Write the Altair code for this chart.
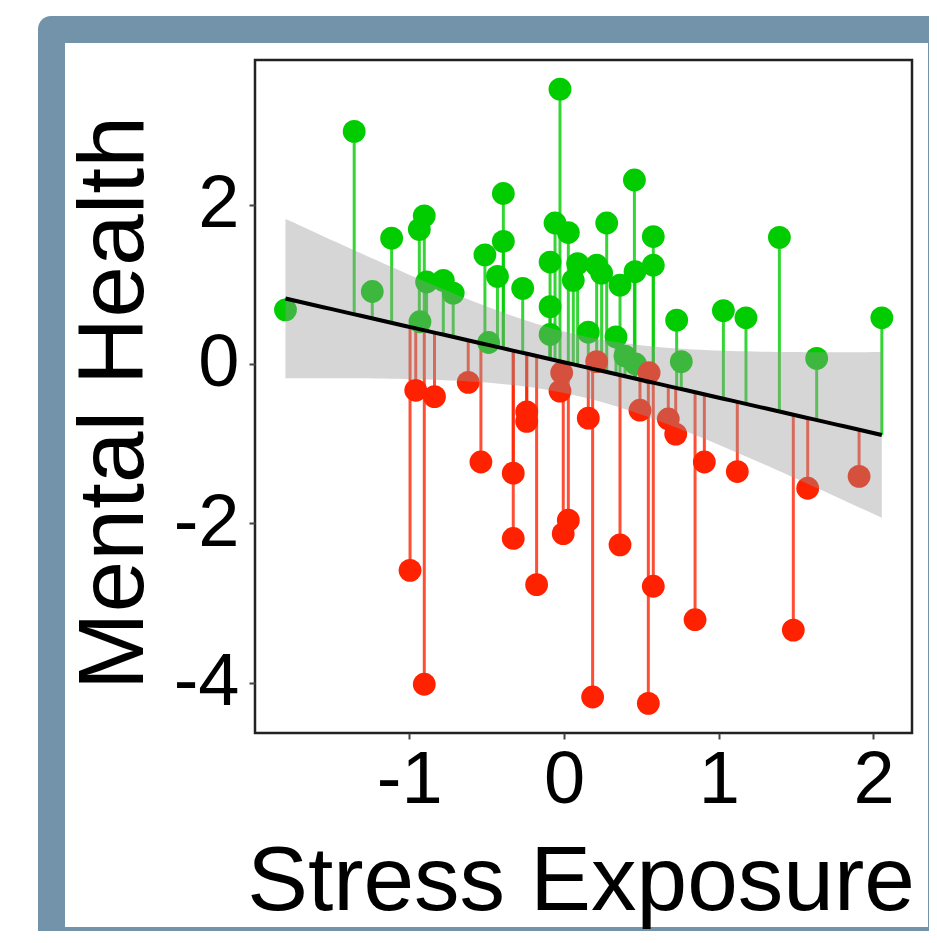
import altair as alt
import numpy as np
import pandas as pd

# ---- data ----
green_x = [-1.80, -1.356, -1.239, -1.114, -0.903, -0.935, -0.888, -0.780, -0.716, -0.931,
           -0.026, -0.392, -0.392, -0.511, -0.430, -0.267, -0.487, -0.058, 0.028, -0.090,
           0.088, 0.060, -0.090, -0.090, 0.276, 0.211, 0.243, 0.362, 0.455, 0.577,
           0.577, 0.459, 0.157, 0.336, 0.394, 0.462, 0.728, 0.758, 1.030, 1.176,
           1.392, 1.633, 2.054]
green_y = [0.68, 2.92, 0.91, 1.58, 1.86, 1.69, 1.03, 1.05, 0.89, 0.53,
           3.45, 2.14, 1.54, 1.37, 1.10, 0.95, 0.27, 1.77, 1.65, 1.28,
           1.26, 1.05, 0.72, 0.37, 1.77, 1.24, 1.14, 0.99, 2.31, 1.60,
           1.24, 1.16, 0.40, 0.34, 0.10, 0.00, 0.55, 0.03, 0.67, 0.58,
           1.59, 0.07, 0.58]
red_x = [-0.958, -0.837, -0.995, -0.903, -0.619, -0.537, -0.328, -0.328, -0.241, -0.241,
         -0.177, 0.028, -0.005, -0.026, -0.015, 0.157, 0.185, 0.362, 0.491, 0.577,
         0.545, 0.674, 0.722, 0.907, 1.120, 0.847, 1.482, 1.575, 1.907, 0.211, 0.550]
red_y = [-0.33, -0.41, -2.59, -4.02, -0.23, -1.23, -1.37, -2.19, -0.60, -0.72,
         -2.77, -1.96, -2.13, -0.34, -0.11, -0.68, -4.18, -2.27, -0.58, -2.79,
         -4.26, -0.69, -0.88, -1.23, -1.35, -3.21, -3.34, -1.56, -1.41, 0.03, -0.11]

x_ticks = [-1, 0, 1, 2]
y_ticks = [-4, -2, 0, 2]
x_title = "Stress Exposure"
y_title = "Mental Health"

GREEN = "#00cc00"
RED = "#ff2200"
FRAME = "#7393ab"
FONT = "Liberation Sans"

# ---- linear fit (OLS) with 95% confidence band ----
xs = np.array(green_x + red_x, dtype=float)
ys = np.array(green_y + red_y, dtype=float)
groups = ["above"] * len(green_x) + ["below"] * len(red_x)
n = len(xs)
slope, intercept = np.polyfit(xs, ys, 1)
fitted = intercept + slope * xs
resid = ys - fitted
s = np.sqrt(np.sum(resid ** 2) / (n - 2))
xbar = xs.mean()
sxx = np.sum((xs - xbar) ** 2)
dfree = n - 2
z = 1.959964
tq = z + (z ** 3 + z) / (4 * dfree) + (5 * z ** 5 + 16 * z ** 3 + 3 * z) / (96 * dfree ** 2)

grid = np.linspace(xs.min(), xs.max(), 80)
gfit = intercept + slope * grid
se = s * np.sqrt(1.0 / n + (grid - xbar) ** 2 / sxx)
band = pd.DataFrame({"x": grid, "fit": gfit, "lo": gfit - tq * se, "hi": gfit + tq * se})

pts = pd.DataFrame({"x": xs, "y": ys, "fit": fitted, "group": groups})

W, H = 657, 673
xscale = alt.Scale(domain=[-1.997, 2.249], nice=False, zero=False)
yscale = alt.Scale(domain=[-4.632, 3.816], nice=False, zero=False)
color = alt.Color("group:N", scale=alt.Scale(domain=["above", "below"], range=[GREEN, RED]), legend=None)

one = pd.DataFrame({"k": [0]})

outer = alt.Chart(one).mark_rect(color=FRAME, cornerRadius=13).encode(
    x=alt.value(-217), x2=alt.value(720), y=alt.value(-44), y2=alt.value(920))
inner = alt.Chart(one).mark_rect(color="white").encode(
    x=alt.value(-190), x2=alt.value(673), y=alt.value(-17), y2=alt.value(867))

xaxis = alt.Axis(values=x_ticks, title=x_title, grid=False, domain=False, zindex=1,
                 labelExpr="datum.value + ''",
                 labelFontSize=74, labelFont=FONT, labelColor="black", labelPadding=5,
                 labelFlush=False, labelOverlap=False,
                 tickSize=6, tickWidth=2, tickColor="#444444",
                 titleFont=FONT, titleFontSize=91, titleFontWeight="normal", titleColor="black",
                 titleX=W / 2 - 3, titleY=176, titleAlign="center", titleBaseline="alphabetic")
yaxis = alt.Axis(values=y_ticks, title=y_title, grid=False, domain=False, zindex=1,
                 labelExpr="datum.value + ''",
                 labelFontSize=74, labelFont=FONT, labelColor="black", labelPadding=10,
                 labelFlush=False, labelOverlap=False,
                 tickSize=6, tickWidth=2, tickColor="#444444",
                 titleFont=FONT, titleFontSize=93, titleFontWeight="normal", titleColor="black",
                 titleX=-113, titleY=H / 2 + 6, titleAlign="center", titleBaseline="alphabetic",
                 titleAngle=270)

segs = alt.Chart(pts).mark_rule(strokeWidth=3, opacity=0.8).encode(
    x=alt.X("x:Q", scale=xscale, axis=xaxis),
    y=alt.Y("y:Q", scale=yscale, axis=yaxis),
    y2="fit:Q",
    color=color)

dots = alt.Chart(pts).mark_circle(size=520, opacity=1).encode(
    x=alt.X("x:Q", scale=xscale),
    y=alt.Y("y:Q", scale=yscale),
    color=color)

ribbon = alt.Chart(band).mark_area(color="#999999", opacity=0.4).encode(
    x=alt.X("x:Q", scale=xscale),
    y=alt.Y("lo:Q", scale=yscale),
    y2="hi:Q")

fitline = alt.Chart(band).mark_line(color="black", strokeWidth=4).encode(
    x=alt.X("x:Q", scale=xscale),
    y=alt.Y("fit:Q", scale=yscale))

border = alt.Chart(one).mark_rect(fill=None, stroke="#222222", strokeWidth=2.5).encode(
    x=alt.value(0), x2=alt.value(W), y=alt.value(0), y2=alt.value(H))

chart = alt.layer(outer, inner, segs, dots, ribbon, fitline, border).properties(
    width=W, height=H,
    autosize=alt.AutoSizeParams(type="none"),
    padding={"left": 247, "top": 52, "right": 17, "bottom": 198},
    background="white",
).configure_view(stroke=None)

chart.save("out.html", embed_options={"renderer": "svg", "actions": False})
